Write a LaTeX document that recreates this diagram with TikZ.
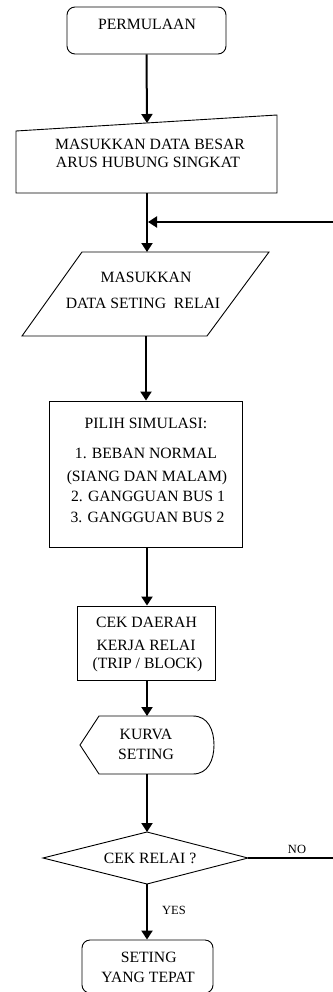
\documentclass[tikz,border=0pt]{standalone}
\usepackage{fontspec}
\setmainfont{Liberation Serif}
\usetikzlibrary{arrows.meta}
\begin{document}
\begin{tikzpicture}[x=1pt,y=-1pt,
  shapeline/.style={draw=black, line width=0.9pt},
  flow/.style={line width=2pt, -{Triangle[length=9pt,width=11pt]}},
  thinline/.style={line width=1.1pt},
  boxnode/.style={shapeline, inner sep=0pt, minimum width=#1},
  lbl/.style={font=\fontsize{15.7}{18}\selectfont, inner sep=0pt, anchor=base},
  small/.style={font=\fontsize{12.5}{14}\selectfont, inner sep=0pt, anchor=base}]
\useasboundingbox (0,0) rectangle (332,992);
% start
\node[boxnode=159, minimum height=47, rounded corners=8pt] (start) at (146.5,30.5) {};
\node[lbl] (tstart) at (147,29.3) {PERMULAAN};
% manual input
\coordinate (mi1) at (16,131); \coordinate (mi2) at (277,115);
\coordinate (mi3) at (277,193); \coordinate (mi4) at (16,193);
\coordinate (mitop) at (147,123); \coordinate (mibot) at (147,193);
\draw[shapeline] (mi1) -- (mi2) -- (mi3) -- (mi4) -- cycle;
\node[lbl] (tmi1) at (150,149.3) {MASUKKAN DATA BESAR};
\node[lbl] (tmi2) at (148,167.3) {ARUS HUBUNG SINGKAT};
% parallelogram
\coordinate (pa1) at (82,252); \coordinate (pa2) at (269,252);
\coordinate (pa3) at (207,336); \coordinate (pa4) at (22,336);
\coordinate (patop) at (147,252); \coordinate (pabot) at (146,336);
\draw[shapeline] (pa1) -- (pa2) -- (pa3) -- (pa4) -- cycle;
\node[lbl] (tpa1) at (146,282.3) {MASUKKAN};
\node[lbl] (tpa2) at (143,308.3) {DATA SETING\ \ RELAI};
% merge point and loop entry
\coordinate (merge) at (148,222);
\coordinate (loopin) at (333,222);
% simulation box
\node[boxnode=193, minimum height=146] (sim) at (145.5,474) {};
\node[lbl] (ts1) at (146,428.3) {PILIH SIMULASI:};
\node[lbl] (ts2) at (146,458.3) {1. BEBAN NORMAL};
\node[lbl] (ts3) at (147,481.3) {(SIANG DAN MALAM)};
\node[lbl] (ts4) at (148,501.3) {2. GANGGUAN BUS 1};
\node[lbl] (ts5) at (147.5,522.3) {3. GANGGUAN BUS 2};
% check box
\node[boxnode=138, minimum height=74] (cek) at (146,643) {};
\node[lbl] (tc1) at (146.5,627.3) {CEK DAERAH};
\node[lbl] (tc2) at (146,650.3) {KERJA RELAI};
\node[lbl] (tc3) at (147.5,668.3) {(TRIP / BLOCK)};
% display
\coordinate (dtop) at (147,716); \coordinate (dbot) at (147,774);
\draw[shapeline] (80,745) -- (99,716) -- (193,716)
  .. controls (208,716) and (214,730) .. (214,745)
  .. controls (214,760) and (208,774) .. (193,774) -- (99,774) -- cycle;
\node[lbl] (td1) at (146,739.3) {KURVA};
\node[lbl] (td2) at (146,759.3) {SETING};
% decision
\coordinate (dtp) at (147,832); \coordinate (drt) at (248,858);
\coordinate (dbt) at (147,884); \coordinate (dlt) at (43,858);
\draw[shapeline] (dtp) -- (drt) -- (dbt) -- (dlt) -- cycle;
\node[lbl] (tdec) at (150,863.3) {CEK RELAI ?};
\coordinate (noend) at (333,858);
\node[small] (tno) at (297,853.2) {NO};
\node[small] (tyes) at (174,914.8) {YES};
% end
\node[boxnode=131, minimum height=53, rounded corners=8pt] (fin) at (147.5,966.5) {};
\node[lbl] (te1) at (148.7,962) {SETING};
\node[lbl] (te2) at (148,982) {YANG TEPAT};
% connectors
\draw[flow] (start.south) -- (mitop);
\draw[flow] (mibot) -- (patop);
\draw[flow] (loopin) -- (merge);
\draw[flow] (pabot) -- (pabot |- sim.north);
\draw[flow] (sim.south -| 147,0) -- (cek.north -| 147,0);
\draw[flow] (cek.south -| 147,0) -- (dtop);
\draw[flow] (dbot) -- (dtp);
\draw[thinline] (drt) -- (noend);
\draw[flow] (dbt) -- (fin.north -| 147,0);
\end{tikzpicture}
\end{document}
